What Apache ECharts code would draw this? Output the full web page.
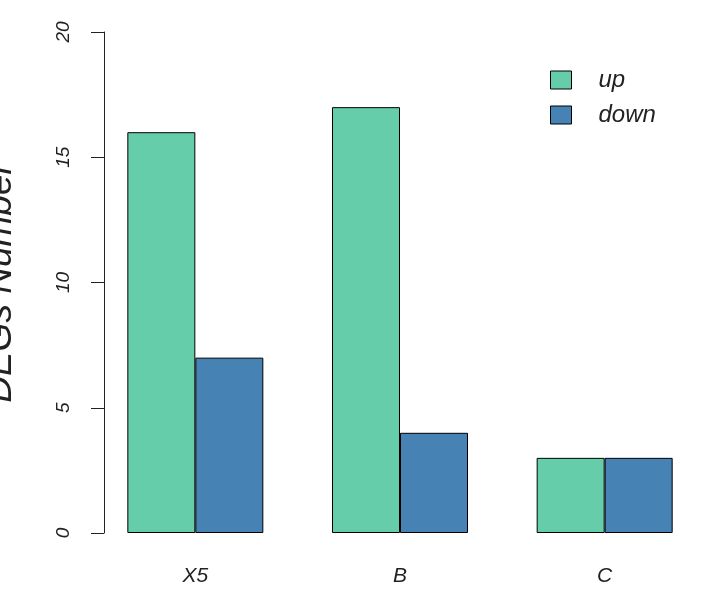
<!DOCTYPE html>
<html>
<head>
<meta charset="utf-8">
<script src="https://cdn.jsdelivr.net/npm/echarts@6/dist/echarts.min.js"></script>
<style>html,body{margin:0;padding:0;background:#fff}#c{width:718px;height:612px}</style>
</head>
<body>
<div id="c"></div>
<script>
const categories = ['X5', 'B', 'C'];
const upValues = [16, 17, 3];
const downValues = [7, 4, 3];
const yTicks = [0, 5, 10, 15, 20];

const font = 'Liberation Sans, Arial, sans-serif';
const chart = echarts.init(document.getElementById('c'));
chart.setOption({
  animation: false,
  backgroundColor: '#fff',
  grid: { left: 93, right: 11, top: 32, bottom: 79, containLabel: false, outerBoundsMode: 'none' },
  legend: {
    orient: 'vertical',
    left: 550, top: 68,
    padding: 0,
    itemWidth: 21, itemHeight: 18, itemGap: 11,
    icon: 'rect',
    itemStyle: { borderColor: '#000', borderWidth: 1 },
    textStyle: { fontFamily: font, fontStyle: 'italic', fontSize: 24, color: '#222', padding: [0, 0, 0, 22] },
    data: ['up', 'down']
  },
  xAxis: {
    type: 'category',
    data: categories,
    axisLine: { show: false },
    axisTick: { show: false },
    axisLabel: { margin: 33, fontFamily: font, fontStyle: 'italic', fontSize: 21, color: '#222' }
  },
  yAxis: {
    type: 'value',
    min: yTicks[0], max: yTicks[yTicks.length - 1], interval: 5,
    offset: -11,
    name: 'DEGs Number',
    nameLocation: 'middle',
    nameRotate: 90,
    nameGap: 85,
    nameMoveOverlap: false,
    nameTextStyle: { fontFamily: font, fontStyle: 'italic', fontSize: 37, color: '#222' },
    axisLine: { show: true, lineStyle: { color: '#222', width: 1 } },
    axisTick: { show: true, length: 13, lineStyle: { color: '#222' } },
    splitLine: { show: false },
    axisLabel: { rotate: 90, margin: 31, fontFamily: font, fontStyle: 'italic', fontSize: 19, color: '#222' }
  },
  series: [
    { name: 'up', type: 'bar', data: upValues, barWidth: 68, barGap: '0%',
      itemStyle: { color: '#66CDAA', borderColor: '#000', borderWidth: 1 } },
    { name: 'down', type: 'bar', data: downValues, barWidth: 68, barGap: '0%',
      itemStyle: { color: '#4682B4', borderColor: '#000', borderWidth: 1 } }
  ]
});
</script>
</body>
</html>
